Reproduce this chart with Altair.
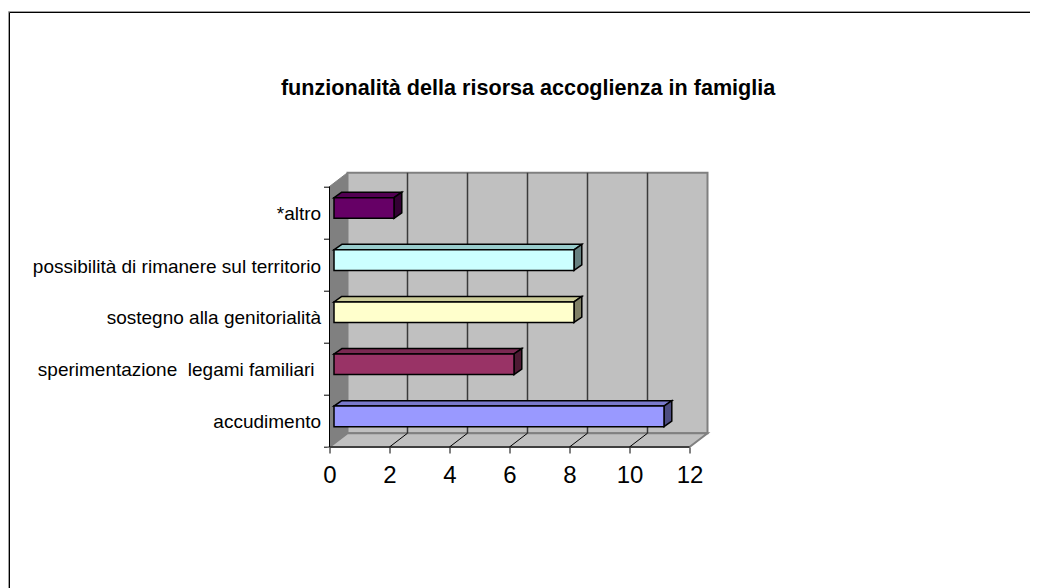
import altair as alt
import pandas as pd

# values, bottom to top
categories = ["accudimento", "sperimentazione\u00a0 legami familiari", "sostegno alla genitorialità",
              "possibilità di rimanere sul territorio", "*altro"]
values = [11, 6, 8, 8, 2]
front_colors = ["#9999FF", "#993366", "#FFFFCC", "#CCFFFF", "#660066"]
top_colors = ["#7A7ACC", "#7A2952", "#CCCC99", "#99CCCC", "#520052"]
side_colors = ["#4D4D80", "#4D1A33", "#808066", "#668080", "#330033"]
label_slots = [0.485, 1.475, 2.48, 3.46, 4.48]
label_ends = [-0.28, -0.5, -0.28, -0.28, -0.28]
x_ticks = [0, 2, 4, 6, 8, 10, 12]
inner_grid = [2, 4, 6, 8, 10]
y_ticks = [0, 1, 2, 3, 4, 5]
title_text = "funzionalità della risorsa accoglienza in famiglia"

# projection settings in data units
X_MAX, Y_MAX = 12, 5
WALL_DX, WALL_DY = 0.6, 0.265
BAR_X0, BAR_Y0, BAR_H = 0.15, 0.39, 0.395
BAR_DX, BAR_DY = 0.26, 0.105

WIDTH = 378
HEIGHT = 274.3
PAD_L, PAD_T = 321.5, 164.7
TOTAL_W, TOTAL_H = 1022, 580

xs = alt.Scale(domain=[0, X_MAX + WALL_DX], range=[0, WIDTH], nice=False, zero=False)
ys = alt.Scale(domain=[0, Y_MAX + WALL_DY], range=[HEIGHT, 0], nice=False, zero=False)

x_axis = alt.Axis(
    values=x_ticks, format="d", domain=False, grid=False, tickColor="black", tickSize=6,
    tickWidth=1, labelFontSize=24, labelFont="Liberation Sans", labelColor="black",
    labelPadding=10, labelFlush=False, labelOverlap=False, title=None)
y_axis = alt.Axis(
    values=y_ticks, domain=False, grid=False, labels=False, tickColor="black", tickSize=6,
    tickWidth=1, title=None)

def X(f, **k):
    return alt.X(f, type="quantitative", scale=xs, axis=x_axis, stack=None, **k)

def Y(f, **k):
    return alt.Y(f, type="quantitative", scale=ys, axis=y_axis, stack=None, **k)

# walls
back = pd.DataFrame({"x": [WALL_DX], "x2": [X_MAX + WALL_DX], "y": [WALL_DY], "y2": [Y_MAX + WALL_DY]})
back_wall = alt.Chart(back).mark_rect(fill="#C0C0C0", stroke="#808080", strokeWidth=2).encode(
    x=X("x"), x2="x2", y=Y("y"), y2="y2")

left = pd.DataFrame({"x": [0, WALL_DX], "y": [0, WALL_DY], "y2": [Y_MAX, Y_MAX + WALL_DY]})
left_wall = alt.Chart(left).mark_area(fill="#808080", stroke="#808080", strokeWidth=1, orient="vertical").encode(
    x=X("x"), y=Y("y"), y2="y2")

floor = pd.DataFrame({"y": [0, WALL_DY], "x": [0, WALL_DX], "x2": [X_MAX, X_MAX + WALL_DX]})
floor_mark = alt.Chart(floor).mark_area(fill="#C0C0C0", stroke="#808080", strokeWidth=2, orient="horizontal").encode(
    y=Y("y"), x=X("x"), x2="x2")

# gridlines
g = pd.DataFrame({"v": inner_grid})
g["xb"] = g.v + WALL_DX
g["y0"] = WALL_DY
g["y1"] = Y_MAX + WALL_DY
g["f0"] = 0.0
wall_grid = alt.Chart(g).mark_rule(color="#3a3a3a", strokeWidth=1.5).encode(
    x=X("xb"), y=Y("y0"), y2="y1")
floor_grid = alt.Chart(g).mark_rule(color="black", strokeWidth=1).encode(
    x=X("v"), x2="xb", y=Y("f0"), y2="y0")

# front axis lines
front_df = pd.DataFrame({"x": [0.0], "x2": [float(X_MAX)], "y": [0.0], "y2": [float(Y_MAX)]})
x_line = alt.Chart(front_df).mark_rule(color="black", strokeWidth=1).encode(x=X("x"), x2="x2", y=Y("y"))
y_line = alt.Chart(front_df).mark_rule(color="black", strokeWidth=1).encode(x=X("x"), y=Y("y"), y2="y2")

# bars
rows_front, rows_top, rows_side = [], [], []
for i, (c, v) in enumerate(zip(categories, values)):
    y0 = i + BAR_Y0
    y1 = y0 + BAR_H
    x0 = BAR_X0
    x1 = BAR_X0 + v
    rows_front.append(dict(cat=c, x=x0, x2=x1, y=y0, y2=y1, fill=front_colors[i]))
    rows_top.append(dict(cat=c, y=y1, x=x0, x2=x1, fill=top_colors[i]))
    rows_top.append(dict(cat=c, y=y1 + BAR_DY, x=x0 + BAR_DX, x2=x1 + BAR_DX, fill=top_colors[i]))
    rows_side.append(dict(cat=c, x=x1, y=y0, y2=y1, fill=side_colors[i]))
    rows_side.append(dict(cat=c, x=x1 + BAR_DX, y=y0 + BAR_DY, y2=y1 + BAR_DY, fill=side_colors[i]))

bar_top = alt.Chart(pd.DataFrame(rows_top)).mark_area(stroke="black", strokeWidth=1.5, orient="horizontal").encode(
    y=Y("y"), x=X("x"), x2="x2", fill=alt.Fill("fill:N", scale=None), detail="cat:N")
bar_side = alt.Chart(pd.DataFrame(rows_side)).mark_area(stroke="black", strokeWidth=1.5, orient="vertical").encode(
    x=X("x"), y=Y("y"), y2="y2", fill=alt.Fill("fill:N", scale=None), detail="cat:N")
bar_front = alt.Chart(pd.DataFrame(rows_front)).mark_rect(stroke="black", strokeWidth=1.5).encode(
    x=X("x"), x2="x2", y=Y("y"), y2="y2", fill=alt.Fill("fill:N", scale=None))

# category labels
lab = pd.DataFrame({"t": categories, "y": label_slots, "x": label_ends})
labels = alt.Chart(lab).mark_text(align="right", baseline="middle", font="Liberation Sans", fontSize=19, color="black").encode(
    x=X("x"), y=Y("y"), text="t:N")

# title
ttl = pd.DataFrame({"t": [title_text], "x": [6.62], "y": [6.88]})
title = alt.Chart(ttl).mark_text(align="center", baseline="middle", font="Liberation Sans", fontSize=21.6,
                                 fontWeight="bold", color="black").encode(x=X("x"), y=Y("y"), text="t:N")

# outer frame, running off the page at right and bottom
fx, fy = 9.5 - 8 - PAD_L, 12.5 - 8 - PAD_T
frame_df = pd.DataFrame({"k": [0]})
frame = [
    alt.Chart(frame_df).mark_rule(color="#A0A0A0", strokeWidth=1).encode(
        x=alt.value(fx - 1), x2=alt.value(TOTAL_W), y=alt.value(fy - 1)),
    alt.Chart(frame_df).mark_rule(color="#A0A0A0", strokeWidth=1).encode(
        x=alt.value(fx - 1), y=alt.value(fy - 1), y2=alt.value(TOTAL_H)),
    alt.Chart(frame_df).mark_rule(color="black", strokeWidth=1).encode(
        x=alt.value(fx), x2=alt.value(TOTAL_W), y=alt.value(fy)),
    alt.Chart(frame_df).mark_rule(color="black", strokeWidth=1).encode(
        x=alt.value(fx), y=alt.value(fy), y2=alt.value(TOTAL_H)),
]

chart = alt.layer(
    back_wall, left_wall, floor_mark, wall_grid, floor_grid, x_line, y_line,
    bar_top, bar_side, bar_front, labels, title, *frame,
).properties(
    width=WIDTH, height=HEIGHT,
    padding={"left": PAD_L, "top": PAD_T, "right": TOTAL_W - PAD_L - WIDTH, "bottom": TOTAL_H - PAD_T - HEIGHT},
    autosize=alt.AutoSizeParams(type="none"),
    background="white",
).configure_view(stroke=None)

chart.save("out.html", embed_options={"renderer": "svg", "actions": False})
